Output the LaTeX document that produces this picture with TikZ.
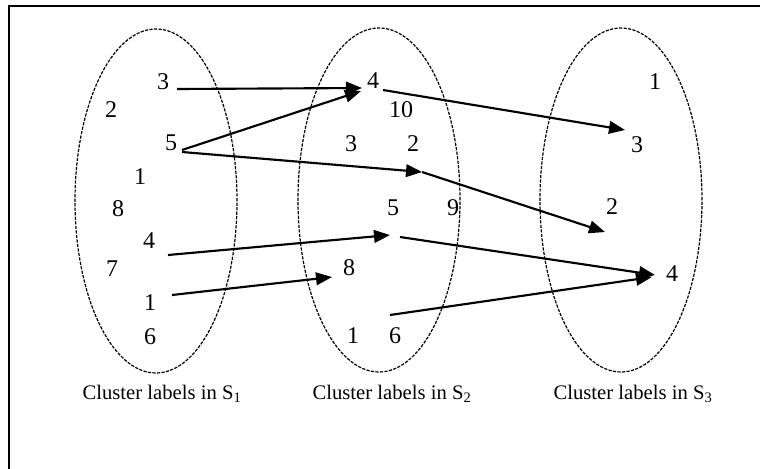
\documentclass[tikz,border=0pt]{standalone}
\usepackage{fontspec}
\setmainfont{Liberation Serif}
\usetikzlibrary{arrows.meta,positioning,shapes.geometric}
\tikzset{
  cluster/.style={draw,ellipse,dash pattern=on 2.4pt off 1pt,line width=0.9pt,
    minimum width=121.5pt,minimum height=258pt,inner sep=0pt},
  lbl/.style={inner sep=0pt,font=\fontsize{18}{18}\selectfont},
  caption/.style={inner sep=0pt,font=\fontsize{15.5}{16}\selectfont},
  maparrow/.style={-{Triangle[length=12pt,width=9.5pt]},line width=1.6pt},
  frameline/.style={line width=1.6pt}
}

\begin{document}
\begin{tikzpicture}[x=0.75pt,y=-0.75pt]
\useasboundingbox (0,0) rectangle (760,468);
\clip (0,0) rectangle (760,468);
% frame, cut by the page edge
\draw[frameline] (9,480) -- (9,6) -- (780,6);
% the three clusterings
\node[cluster] (s1) at (156,201) {};
\node[cluster] (s2) at (379,200) {};
\node[cluster] (s3) at (621,200) {};
% labels in S1
\node[lbl] (s1n3) at (163,82) {3};
\node[lbl] (s1n2) at (111,110) {2};
\node[lbl] (s1n5) at (171,143) {5};
\node[lbl] (s1n1a) at (140,177) {1};
\node[lbl] (s1n8) at (118,209) {8};
\node[lbl] (s1n4) at (149,241) {4};
\node[lbl] (s1n7) at (112,269) {7};
\node[lbl] (s1n1b) at (150,303) {1};
\node[lbl] (s1n6) at (150,337) {6};
% labels in S2
\node[lbl] (s2n4) at (373,81) {4};
\node[lbl] (s2n10) at (401,110) {10};
\node[lbl] (s2n3) at (351,144) {3};
\node[lbl] (s2n2) at (413,144) {2};
\node[lbl] (s2n5) at (393,208) {5};
\node[lbl] (s2n9) at (453,208) {9};
\node[lbl] (s2n8) at (349,268) {8};
\node[lbl] (s2n1) at (353,336) {1};
\node[lbl] (s2n6) at (395,336) {6};
% labels in S3
\node[lbl] (s3n1) at (655,82) {1};
\node[lbl] (s3n3) at (637,145) {3};
\node[lbl] (s3n2) at (612,207) {2};
\node[lbl] (s3n4) at (672,274) {4};
% captions
\node[caption] (cap1) at (162,394) {Cluster labels in S\textsubscript{1}};
\node[caption] (cap2) at (392,394) {Cluster labels in S\textsubscript{2}};
\node[caption] (cap3) at (633,394) {Cluster labels in S\textsubscript{3}};
% free ends inside S2
\coordinate (s2at2) at (422,172);
\coordinate (s2in5) at (390,235);
\coordinate (s2out5) at (400,237);
\coordinate (s2out6) at (390,315);
% mappings
\draw[maparrow] ([shift={(14,7)}]s1n3.center) -- ([shift={(-11,7)}]s2n4.center);
\draw[maparrow] ([shift={(11,7)}]s1n5.center) -- ([shift={(-12,10)}]s2n4.center);
\draw[maparrow] ([shift={(11,9)}]s1n5.center) -- (s2at2);
\draw[maparrow] ([shift={(10,9)}]s2n4.center) -- ([shift={(-12,-15)}]s3n3.center);
\draw[maparrow] (s2at2) -- ([shift={(-7,25)}]s3n2.center);
\draw[maparrow] ([shift={(19,14)}]s1n4.center) -- (s2in5);
\draw[maparrow] (s2out5) -- ([shift={(-17,1)}]s3n4.center);
\draw[maparrow] ([shift={(22,-8)}]s1n1b.center) -- ([shift={(-17,9)}]s2n8.center);
\draw[maparrow] (s2out6) -- ([shift={(-20,3)}]s3n4.center);
\end{tikzpicture}
\end{document}
